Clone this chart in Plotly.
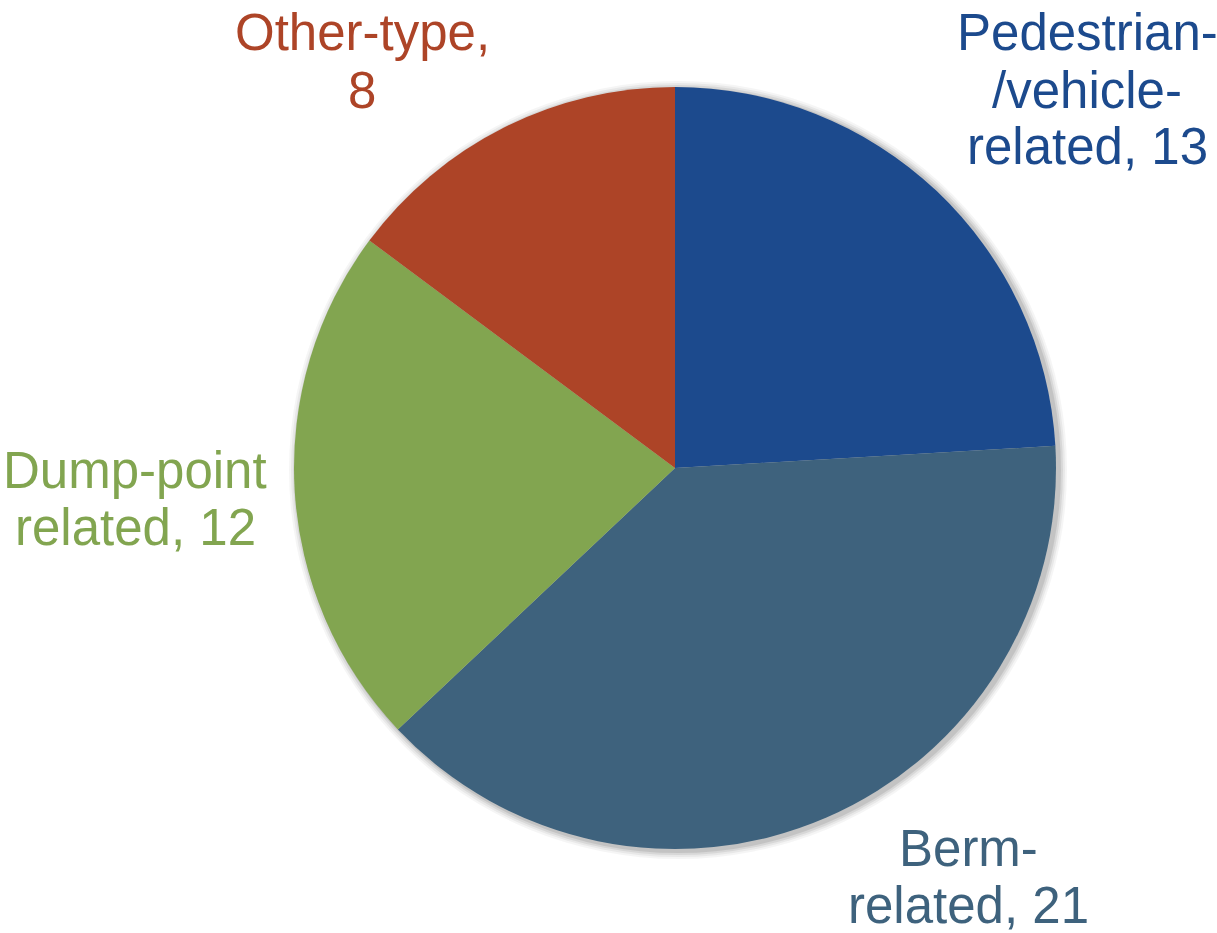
import plotly.graph_objects as go

# Incident counts by category
categories = ["Pedestrian-/vehicle-related", "Berm-related", "Dump-point related", "Other-type"]
counts = [13, 21, 12, 8]
colors = ["#1C4A8D", "#3E627D", "#82A550", "#AD4427"]

# Wrapped label text and separator before the count
label_wrapped = ["Pedestrian-<br>/vehicle-<br>related", "Berm-<br>related", "Dump-point<br>related", "Other-type"]
count_sep = [", ", ", ", ", ", ",<br>"]

W, H = 1217, 933
cx, cy, r = 675, 468, 381

fig = go.Figure()
fig.add_trace(go.Pie(
    labels=categories,
    values=counts,
    sort=False,
    direction="clockwise",
    rotation=0,
    textinfo="none",
    hoverinfo="label+value",
    marker=dict(colors=colors, line=dict(width=0)),
    showlegend=False,
    domain=dict(x=[(cx - r) / W, (cx + r) / W],
                y=[(H - cy - r) / H, (H - cy + r) / H]),
))

# soft drop shadow behind the pie
for grow, op in [(8, 0.04), (6, 0.05), (4, 0.07), (2, 0.09)]:
    sx, sy = cx + 3, cy + 2
    fig.add_shape(
        type="circle", xref="paper", yref="paper", layer="below",
        x0=(sx - r - grow) / W, x1=(sx + r + grow) / W,
        y0=1 - (sy + r + grow) / H, y1=1 - (sy - r - grow) / H,
        fillcolor="black", opacity=op, line=dict(width=0),
    )

# label anchor (x, y of first line centre) in pixels
label_pos = [(1087, 33), (968, 848), (135, 470), (362, 33)]
line_gap = 57
font_size = 51

for lab, sep, val, col, (lx, ly) in zip(label_wrapped, count_sep, counts, colors, label_pos):
    text = f"{lab}{sep}{val}"
    for i, line in enumerate(text.split("<br>")):
        fig.add_annotation(
            x=lx / W, y=1 - (ly + i * line_gap) / H,
            xref="paper", yref="paper",
            text=line, showarrow=False,
            xanchor="center", yanchor="middle",
            font=dict(family="Liberation Sans, Arial, sans-serif", size=font_size, color=col),
        )

fig.update_layout(
    width=W, height=H,
    margin=dict(l=0, r=0, t=0, b=0),
    paper_bgcolor="white",
    plot_bgcolor="white",
)

fig.write_html("out.html")
